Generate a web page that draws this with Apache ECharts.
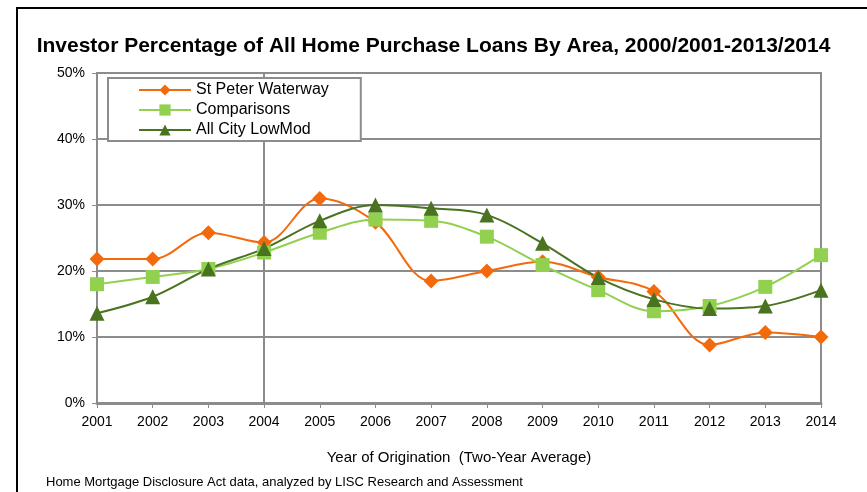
<!DOCTYPE html>
<html>
<head>
    <meta charset="utf-8">
    <title>Investor Percentage</title>
    <script src="https://cdn.jsdelivr.net/npm/echarts@6/dist/echarts.min.js"></script>
    <style>
        html, body { margin: 0; padding: 0; background: #fff; }
        #frame { position: absolute; left: 16px; top: 7px; width: 851px; height: 485px;
                 border-left: 2px solid #000; border-top: 2px solid #000; box-sizing: border-box; }
        #main { position: absolute; left: 0; top: 0; width: 867px; height: 492px; }
    </style>
</head>
<body>
<div id="frame"></div>
<div id="main"></div>
<script type="text/javascript">
    // years on the x axis
    var years = ['2001', '2002', '2003', '2004', '2005', '2006', '2007',
                 '2008', '2009', '2010', '2011', '2012', '2013', '2014'];
    // investor share, percent
    var stPeter = [21.8, 21.8, 25.8, 24.3, 31.0, 27.4, 18.5, 20.0, 21.4, 19.1, 16.9, 8.8, 10.7, 10.0];
    var comparisons = [18.0, 19.1, 20.3, 22.8, 25.8, 27.8, 27.6, 25.2, 20.9, 17.1, 13.9, 14.7, 17.6, 22.4];
    var allCity = [13.6, 16.1, 20.3, 23.4, 27.6, 30.0, 29.5, 28.5, 24.2, 19.0, 15.7, 14.3, 14.7, 17.1];
    var yTicks = [0, 10, 20, 30, 40, 50];

    var font = '"Liberation Sans", sans-serif';
    var gridColor = '#8c8c8c';

    var myChart = echarts.init(document.getElementById('main'));

    function line(name, data, color, symbol, size) {
        return {
            name: name,
            type: 'line',
            data: data,
            smooth: 0.35,
            symbol: symbol,
            symbolSize: size,
            itemStyle: {color: color},
            lineStyle: {color: color, width: 2},
            z: 3
        };
    }

    var series = [
        line('St Peter Waterway', stPeter, '#f36a0d', 'diamond', 15),
        line('Comparisons', comparisons, '#92d050', 'rect', 14),
        line('All City LowMod', allCity, '#4a7320', 'triangle', 15)
    ];
    // vertical reference line at 2004
    series[0].markLine = {
        silent: true,
        symbol: 'none',
        label: {show: false},
        lineStyle: {color: gridColor, width: 2, type: 'solid'},
        data: [{xAxis: '2004'}],
        z: 1
    };

    var option = {
        animation: false,
        textStyle: {fontFamily: font},
        title: {
            text: 'Investor Percentage of All Home Purchase Loans By Area, 2000/2001-2013/2014',
            left: 'center',
            top: 31,
            textStyle: {fontFamily: font, fontSize: 21, fontWeight: 'bold', color: '#000'}
        },
        legend: {
            orient: 'vertical',
            left: 108,
            top: 78,
            padding: [4, 32, 3, 30],
            itemGap: 4,
            itemWidth: 52,
            itemHeight: 14,
            borderColor: gridColor,
            borderWidth: 2,
            backgroundColor: '#fff',
            textStyle: {fontFamily: font, fontSize: 16, color: '#000'},
            data: series.map(function (s) { return s.name; })
        },
        grid: {
            left: 97, right: 46, top: 73, bottom: 89,
            show: true, borderColor: gridColor, borderWidth: 2
        },
        xAxis: {
            type: 'category',
            data: years,
            boundaryGap: false,
            name: 'Year of Origination  (Two-Year Average)',
            nameLocation: 'middle',
            nameGap: 47,
            nameTextStyle: {fontFamily: font, fontSize: 15, color: '#000'},
            axisLine: {lineStyle: {color: gridColor, width: 3}},
            axisTick: {show: true, alignWithLabel: true, length: 5, lineStyle: {color: gridColor}},
            axisLabel: {fontFamily: font, fontSize: 14, color: '#000', margin: 12},
            splitLine: {show: false}
        },
        yAxis: {
            type: 'value',
            min: yTicks[0],
            max: yTicks[yTicks.length - 1],
            interval: 10,
            axisLine: {show: true, lineStyle: {color: gridColor, width: 2}},
            axisTick: {show: true, inside: false, length: 5, lineStyle: {color: gridColor}},
            axisLabel: {fontFamily: font, fontSize: 14, color: '#000', margin: 12,
                        formatter: function (v) { return v + '%'; }},
            splitLine: {show: true, lineStyle: {color: gridColor, width: 2}}
        },
        graphic: [{
            type: 'text',
            left: 46,
            top: 476,
            style: {
                text: 'Home Mortgage Disclosure Act data, analyzed by LISC Research and Assessment',
                font: '13px ' + font,
                fill: '#000'
            }
        }],
        series: series
    };

    myChart.setOption(option);
</script>
</body>
</html>
